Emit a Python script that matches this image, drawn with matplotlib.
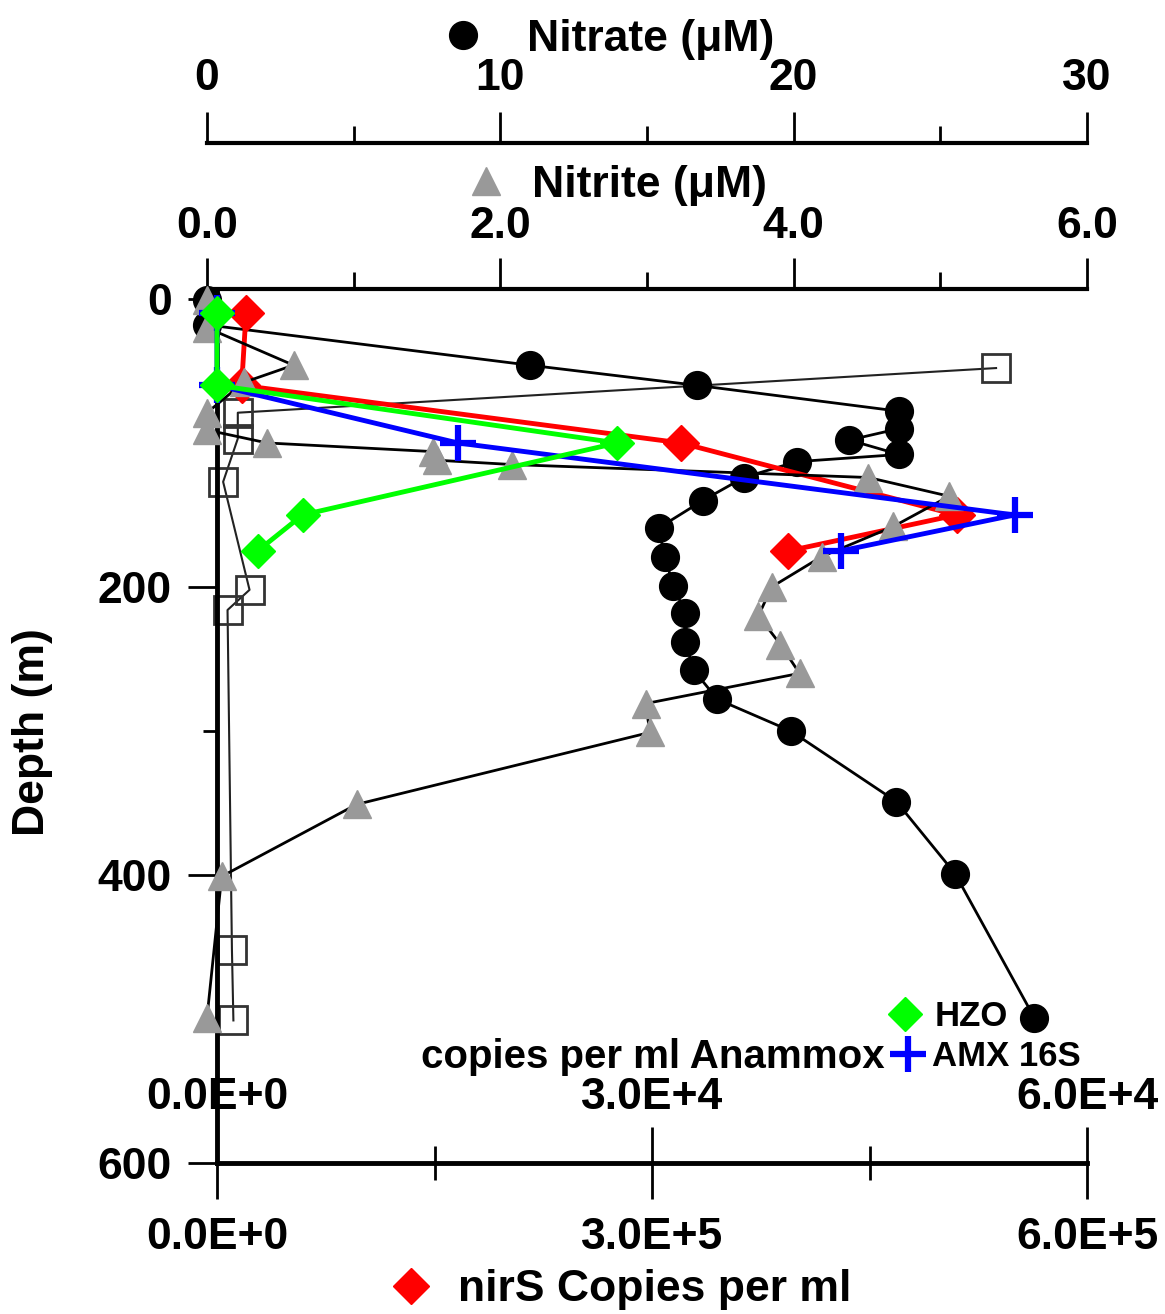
import matplotlib
matplotlib.use("Agg")
import matplotlib.pyplot as plt
from matplotlib.lines import Line2D

plt.rcParams['font.family'] = ['Liberation Sans', 'DejaVu Sans']
plt.rcParams['font.weight'] = 'bold'

# ---- data ----
# nitrate profile (black circles), uM
no3_depth = [1, 18, 46, 60, 78, 90, 98, 108, 113, 124, 140, 159, 179, 199,
             218, 238, 258, 278, 300, 349, 399, 499]
no3_vals = [0.0, 0.0, 11.0, 16.7, 23.6, 23.6, 21.9, 23.6, 20.1, 18.3, 16.9,
            15.4, 15.6, 15.9, 16.3, 16.3, 16.6, 17.4, 19.9, 23.5, 25.5, 28.2]

# nitrite profile (grey triangles), uM
no2_depth = [1, 20, 46, 58, 79, 91, 100, 106, 112, 115, 124, 137, 158, 179,
             200, 220, 240, 260, 281, 301, 351, 401, 499]
no2_vals = [0.0, 0.0, 0.59, 0.25, 0.0, 0.0, 0.41, 1.54, 1.57, 2.08, 4.51,
            5.06, 4.68, 4.19, 3.85, 3.76, 3.91, 4.04, 2.99, 3.02, 1.02, 0.10, 0.0]

# unlabelled open squares (drawn on the nitrate scale)
sq_depth = [48, 79, 97, 127, 202, 216, 452, 501]
sq_vals = [26.9, 1.05, 1.05, 0.55, 1.45, 0.7, 0.85, 0.9]

# gene copies
gene_depth = [10, 60, 100, 150, 175]
nirs_vals = [2.0e4, 1.7e4, 3.2e5, 5.1e5, 3.94e5]   # copies per ml
amx_vals = [0, 0, 1.66e4, 5.5e4, 4.3e4]            # AMX 16S copies per ml
hzo_vals = [0, 0, 2.76e4, 5.9e3, 2.8e3]            # HZO copies per ml

depth_ticks = [0, 200, 400, 600]
no3_ticks = [0, 10, 20, 30]
no3_labels = ['0', '10', '20', '30']
no2_ticks = [0, 2, 4, 6]
no2_labels = ['0.0', '2.0', '4.0', '6.0']
nirs_ticks = [0, 3e5, 6e5]
nirs_labels = ['0.0E+0', '3.0E+5', '6.0E+5']
amx_ticks = [0, 3e4, 6e4]
amx_labels = ['0.0E+0', '3.0E+4', '6.0E+4']

W, H = 1165, 1314
fig = plt.figure(figsize=(W / 100, H / 100), dpi=100)


def rect(x0, x1, ytop, ybot):
    # pixel box -> figure fraction
    return [x0 / W, 1 - ybot / H, (x1 - x0) / W, (ybot - ytop) / H]


ylims = (600, -6.9)
FS = 32

ax_top = fig.add_axes(rect(207, 1087, 289, 1163), label='no3')
ax_main = fig.add_axes(rect(217, 1087, 289, 1163), label='nirs')
ax_no2 = fig.add_axes(rect(207, 1087, 289, 1163), label='no2')
ax_amx = fig.add_axes(rect(217, 1087, 289, 1163), label='amx')

for z, a in enumerate([ax_top, ax_main, ax_no2, ax_amx]):
    a.set_zorder(z + 1)
    a.patch.set_visible(False)
    a.set_ylim(*ylims)
for a in [ax_top, ax_no2, ax_amx]:
    a.axis('off')

ax_top.set_xlim(0, 30)
ax_no2.set_xlim(0, 6)
ax_main.set_xlim(0, 6e5)
ax_amx.set_xlim(0, 6e4)

ax_top.plot(sq_vals, sq_depth, color='#222222', lw=1.5, marker='s', ms=20,
            mfc='none', mec='#333333', mew=2, clip_on=False)
ax_top.plot(no3_vals, no3_depth, color='black', lw=2, marker='o', ms=20,
            clip_on=False)
ax_main.plot(nirs_vals, gene_depth, color='red', lw=3.5, marker='D', ms=18,
             clip_on=False)
ax_no2.plot(no2_vals, no2_depth, color='black', lw=2, marker='^', ms=20,
            mfc='#999999', mec='#999999', clip_on=False)
ax_amx.plot(amx_vals, gene_depth, color='blue', lw=3.5, marker='+', ms=26,
            mew=4.5, clip_on=False)
ax_amx.plot(hzo_vals, gene_depth, color='#00ff00', lw=3.5, marker='D', ms=17,
            clip_on=False)

# depth axis + nirS axis
ax_main.spines[['top', 'right']].set_visible(False)
ax_main.spines[['left', 'bottom']].set_linewidth(3.5)
ax_main.set_yticks(depth_ticks)
ax_main.set_yticks([100, 300, 500], minor=True)
ax_main.tick_params(axis='y', which='major', direction='out', length=21,
                    width=2, pad=11.5, labelsize=FS)
ax_main.tick_params(axis='y', which='minor', direction='out', length=10,
                    width=2)
ax_main.set_xticks(nirs_ticks, nirs_labels)
ax_main.set_xticks([1.5e5, 4.5e5], minor=True)
ax_main.tick_params(axis='x', which='major', direction='inout', length=52,
                    width=2, pad=13, labelsize=FS)
ax_main.tick_params(axis='x', which='minor', direction='inout', length=24,
                    width=2)


def scale_axis(ytop, x0, xlim, ticks, labels, minor, pad):
    a = fig.add_axes(rect(x0, 1087, ytop - 0.5, ytop), label='scale%d' % ytop)
    a.patch.set_visible(False)
    a.set_xlim(*xlim)
    a.set_yticks([])
    a.spines[['bottom', 'left', 'right']].set_visible(False)
    a.spines['top'].set_linewidth(3)
    a.xaxis.tick_top()
    a.set_xticks(ticks, labels)
    if minor:
        a.set_xticks(minor, minor=True)
    a.tick_params(axis='x', which='major', direction='out', length=22,
                  width=2, pad=pad, labelsize=FS)
    a.tick_params(axis='x', which='minor', direction='out', length=12,
                  width=2)
    return a


scale_axis(143, 207, (0, 30), no3_ticks, no3_labels, [5, 15, 25], 9)
scale_axis(289, 207, (0, 6), no2_ticks, no2_labels, [1, 3, 5], 8)

# anammox labels above the bottom line
ax_al = fig.add_axes(rect(217, 1087, 1162.5, 1163), label='amxlab')
ax_al.patch.set_visible(False)
ax_al.set_xlim(0, 6e4)
ax_al.set_yticks([])
for s in ax_al.spines.values():
    s.set_visible(False)
ax_al.xaxis.tick_top()
ax_al.set_xticks(amx_ticks, amx_labels)
ax_al.tick_params(axis='x', length=0, pad=32, labelsize=FS)


def key(label, marker, x_left, y, fs, pad, **kw):
    h = Line2D([], [], ls='none', marker=marker, **kw)
    fig.legend(handles=[h], labels=[label], loc='center left',
               bbox_to_anchor=(x_left / W, 1 - y / H), frameon=False,
               fontsize=fs, handlelength=1, handletextpad=pad,
               borderpad=0, borderaxespad=0)


key('Nitrate (\u03bcM)', 'o', 441, 39, FS, 0.94, ms=20, color='black')
key('Nitrite (\u03bcM)', '^', 464, 185, FS, 0.54, ms=20, color='#999999')
key('nirS Copies per ml', 'D', 389, 1290, FS, 0.56, ms=18, color='red')
key('HZO', 'D', 887.6, 1017, 25, 0.35, ms=17, color='#00ff00')
key('AMX 16S', '+', 890.6, 1057, 25, 0.19, ms=26, mew=4.5, color='blue')

fig.text(885 / W, 1 - 1057 / H, 'copies per ml Anammox', ha='right',
         va='center', fontsize=29)
fig.text(33 / W, 1 - 732 / H, 'Depth (m)', rotation=90, ha='center',
         va='center', fontsize=FS)

fig.savefig('out.png', dpi=100)
